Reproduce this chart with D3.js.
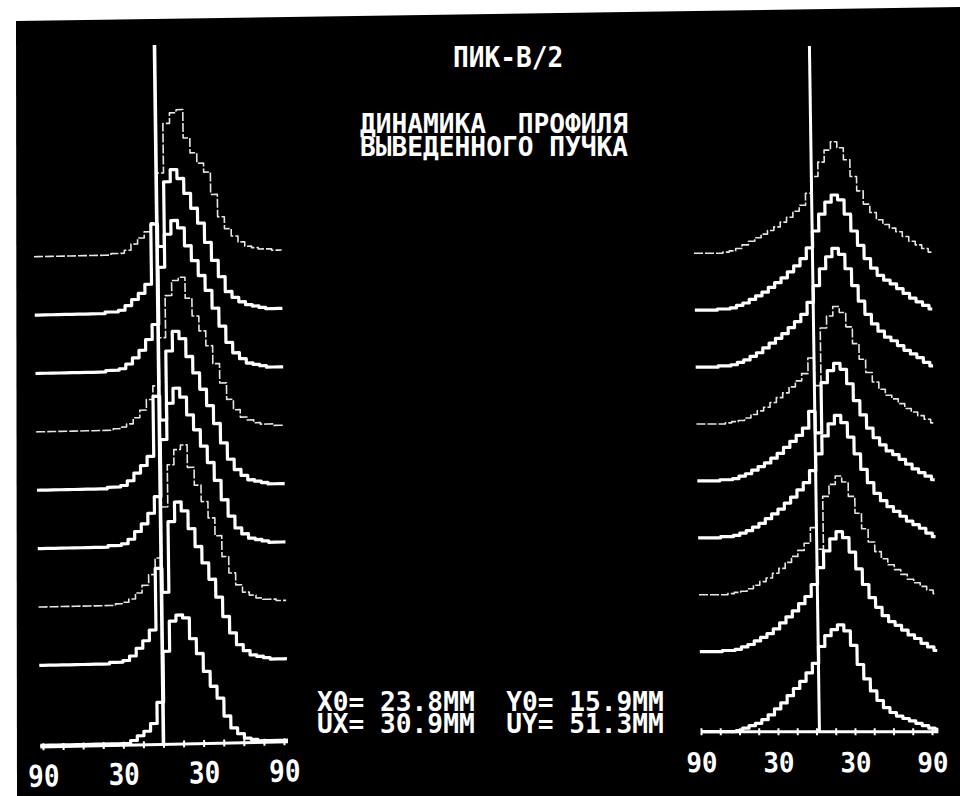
<!DOCTYPE html>
<html><head><meta charset="utf-8">
<script src="https://cdn.jsdelivr.net/npm/d3@7"></script>
<style>html,body{margin:0;padding:0;background:#fff;overflow:hidden}</style>
</head><body>
<svg id="c" width="960" height="796"></svg>
<script>
// ---------- DATA ----------
// channel centres (mm) for the two wire-chamber profiles
const leftPositions  = [-92,-87,-82,-77,-72,-67,-62,-57,-52,-47,-42,-37,-32,-27,-22,-17,-12,-7,-2,3,8,13,18,23,28,33,38,43,48,53,58,63,68,73,78,83,88,93];
const rightPositions = [-90,-85,-80,-75,-70,-65,-60,-55,-50,-45,-40,-35,-30,-25,-20,-15,-10,-5,0,5,10,15,20,25,30,35,40,45,50,55,60,65,70,75,80,85,90,95];

// X profiles (left), top to bottom, relative intensity
const leftTrace1 = [1,1,1,1,1,1,1,1,1,1,1,1,2,2,4,8,12,16,22,55,88,95,97,78,68,61,55,40,25,17,12,8,5,4,3,3,2,2];
const leftTrace2 = [1,1,1,1,1,1,1,1,1,1,1,2,2,3,6,10,14,20,60,45,88,96,90,80,70,60,47,35,24,14,10,7,5,4,3,2,2,2];
const leftTrace3 = [1,1,1,1,1,1,1,1,1,1,1,2,2,3,6,10,15,22,32,70,92,101,96,84,74,64,54,42,30,19,12,8,5,4,3,2,2,2];
const leftTrace4 = [1,1,1,1,1,1,1,1,1,1,1,1,2,3,5,9,14,21,30,62,90,100,102,88,76,66,56,44,31,20,13,8,6,4,3,3,2,2];
const leftTrace5 = [1,1,1,1,1,1,1,1,1,1,1,2,2,3,6,11,16,22,62,46,92,105,100,88,77,66,55,43,30,19,12,8,5,4,3,2,2,2];
const leftTrace6 = [1,1,1,1,1,1,1,1,1,1,1,2,2,3,6,11,16,23,34,72,96,106,100,88,78,67,56,44,31,20,12,8,5,4,3,2,2,2];
const leftTrace7 = [1,1,1,1,1,1,1,1,1,1,1,1,2,3,5,9,14,21,32,66,94,104,107,92,80,69,58,46,32,21,13,8,6,4,3,3,2,2];
const leftTrace8 = [1,1,1,1,1,1,1,1,1,1,1,2,2,3,6,11,16,23,64,48,95,108,102,90,78,67,56,44,31,20,12,8,5,4,3,2,2,2];
const leftTrace9 = [1,1,1,1,1,1,1,1,1,1,1,1,1,1,3,6,9,14,28,62,82,86,84,70,60,48,38,30,18,10,6,3,2,1,1,1,1,1];

// Y profiles (right), top to bottom
const rightTrace1 = [0,0,0,0,0,1,2,4,7,10,13,16,19,22,26,30,35,40,50,64,76,86,93,88,78,64,52,41,34,28,24,21,18,14,10,7,4,1];
const rightTrace2 = [0,0,0,0,1,1,2,4,6,9,12,15,19,23,27,32,37,43,52,66,80,90,96,92,80,66,54,43,35,29,25,22,18,14,10,7,4,1];
const rightTrace3 = [0,0,0,0,1,1,2,4,6,9,12,16,20,24,28,33,38,44,54,68,82,92,99,94,82,68,55,44,36,30,25,22,18,14,11,8,4,1];
const rightTrace4 = [0,0,0,0,0,1,2,3,5,8,11,14,18,22,26,31,36,42,55,32,80,90,98,93,81,67,54,43,35,29,24,21,17,13,10,7,4,1];
const rightTrace5 = [0,0,0,0,1,1,2,4,6,9,12,15,19,23,28,33,38,44,58,40,82,92,98,93,81,67,55,44,36,30,25,22,18,14,10,7,4,1];
const rightTrace6 = [0,0,0,0,1,1,2,4,6,9,12,16,20,24,29,34,40,46,56,70,85,95,102,96,84,70,57,46,37,31,26,22,18,14,11,8,4,1];
const rightTrace7 = [0,0,0,0,0,1,2,3,5,8,11,14,18,22,27,32,37,43,56,38,82,92,99,94,82,68,55,44,36,30,25,21,17,13,10,7,4,1];
const rightTrace8 = [0,0,0,0,1,1,2,4,6,9,12,15,19,24,29,34,40,46,56,70,84,94,100,95,83,69,56,45,37,30,25,22,18,14,11,7,4,1];
const rightTrace9 = [0,0,0,0,0,0,1,3,5,7,10,14,19,24,30,36,42,49,57,71,80,85,89,84,72,56,44,34,26,20,16,13,11,9,7,5,3,2];

const leftTraces  = [leftTrace1,leftTrace2,leftTrace3,leftTrace4,leftTrace5,leftTrace6,leftTrace7,leftTrace8,leftTrace9];
const rightTraces = [rightTrace1,rightTrace2,rightTrace3,rightTrace4,rightTrace5,rightTrace6,rightTrace7,rightTrace8,rightTrace9];

const axisTickMM  = [-90,-75,-60,-45,-30,-15,0,15,30,45,60,75,90];
const axisLabelMM = [-90,-30,30,90];
const markerMM    = [0, 2.3];          // reference (centre) line of each chamber

const titleText    = "ПИК-В/2";
const headingLines = ["ДИНАМИКА  ПРОФИЛЯ", "ВЫВЕДЕННОГО ПУЧКА"];
const resultLines  = ["X0= 23.8ММ  Y0= 15.9ММ", "UX= 30.9ММ  UY= 51.3ММ"];

// ---------- DRAWING ----------
const svg = d3.select("#c");
const FONT = "'DejaVu Sans Mono', 'Liberation Mono', monospace";

// screen (black area of the photographed CRT)
svg.append("polygon")
  .attr("points", [[16,21],[960,7],[960,796],[17,796]].map(p=>p.join(",")).join(" "))
  .attr("fill", "#000");

const panels = [
  { positions: leftPositions, traces: leftTraces, marker: markerMM[0],
    xRange: [43, 284], rowRange: [255.7, 664.4], bottomBase: 744.4, ampPx: 150,
    transform: "matrix(1,-0.021,0.0129,1,-9.61,3.36)", lineTop: 45,
    labelY: 784, labelScale: 1.15, lineW: 3.6 },
  { positions: rightPositions, traces: rightTraces, marker: markerMM[1],
    xRange: [701, 932], rowRange: [253.3, 651.7], bottomBase: 731.7, ampPx: 120,
    transform: "matrix(1,0,0.0146,1,-10.69,0)", lineTop: 46,
    labelY: 772, labelScale: 1.05, lineW: 3 }
];

panels.forEach(p => {
  const g = svg.append("g").attr("transform", p.transform);
  const x = d3.scaleLinear().domain([-90, 90]).range(p.xRange);
  const row = d3.scaleLinear().domain([0, p.traces.length - 2]).range(p.rowRange);
  const amp = d3.scaleLinear().domain([0, 100]).range([0, p.ampPx]);
  const n = p.traces.length;
  const baseOf = i => i === n - 1 ? p.bottomBase : row(i);
  const isDim = i => i < n - 1 && i % 3 === 0;

  // axis line with small tick marks
  const axis = d3.axisBottom(x).tickValues(axisTickMM).tickSize(0).tickFormat("");
  const ag = g.append("g").attr("transform", `translate(0,${p.bottomBase})`).call(axis);
  ag.select(".domain").remove();
  ag.selectAll(".tick line").attr("y1", -3.5).attr("y2", 3.5)
    .attr("stroke", "#fff").attr("stroke-width", 2);
  g.append("line")
    .attr("x1", x(p.positions[0])).attr("x2", x(p.positions[p.positions.length - 1]))
    .attr("y1", p.bottomBase).attr("y2", p.bottomBase)
    .attr("stroke", "#fff").attr("stroke-width", 3);

  // profiles
  const order = d3.range(n).sort((a, b) => (isDim(b) ? 1 : 0) - (isDim(a) ? 1 : 0));
  order.forEach(i => {
    const base = baseOf(i);
    const line = d3.line()
      .x(d => x(d[0]))
      .y(d => base - amp(d[1]))
      .curve(d3.curveStep);
    const pts = p.positions.map((m, k) => [m, p.traces[i][k]]);
    g.append("path")
      .attr("d", line(pts))
      .attr("fill", "none")
      .attr("stroke", isDim(i) ? "#e6e6e6" : "#fff")
      .attr("stroke-width", isDim(i) ? 1.6 : 3.2)
      .attr("stroke-dasharray", isDim(i) ? "9 2" : null)
      .attr("stroke-linejoin", "round");
  });

  // reference line
  g.append("line")
    .attr("x1", x(p.marker)).attr("x2", x(p.marker))
    .attr("y1", p.lineTop).attr("y2", p.bottomBase)
    .attr("stroke", "#fff").attr("stroke-width", p.lineW);

  // labels 90 30 30 90
  const lab = d3.axisBottom(x).tickValues(axisLabelMM).tickSize(0).tickFormat(d => Math.abs(d));
  const lg = g.append("g").attr("transform", `translate(0,${p.labelY})`).call(lab);
  lg.select(".domain").remove();
  lg.selectAll(".tick text")
    .attr("y", 0).attr("dy", 0)
    .attr("transform", `scale(1,${p.labelScale})`)
    .attr("fill", "#fff")
    .style("font-family", FONT).style("font-weight", "bold").style("font-size", "26px");
});

// texts (multi-line blocks as one text element with tspans)
function block(lines, x, y, gap, sy, fs) {
  const t = svg.append("text")
    .attr("transform", `translate(${x},${y}) scale(1,${sy})`)
    .attr("fill", "#fff")
    .style("font-family", FONT).style("font-weight", "bold").style("font-size", fs + "px")
    .style("white-space", "pre")
    .attr("xml:space", "preserve");
  lines.forEach((s, i) => {
    t.append("tspan").attr("x", 0).attr("y", i * gap / sy).text(s);
  });
}
block([titleText], 453, 67, 0, 1.08, 26.2);
block(headingLines, 360, 133, 23, 1.0, 26.2);
block(resultLines, 317, 711, 22, 1.0, 26.2);
</script>
</body></html>
